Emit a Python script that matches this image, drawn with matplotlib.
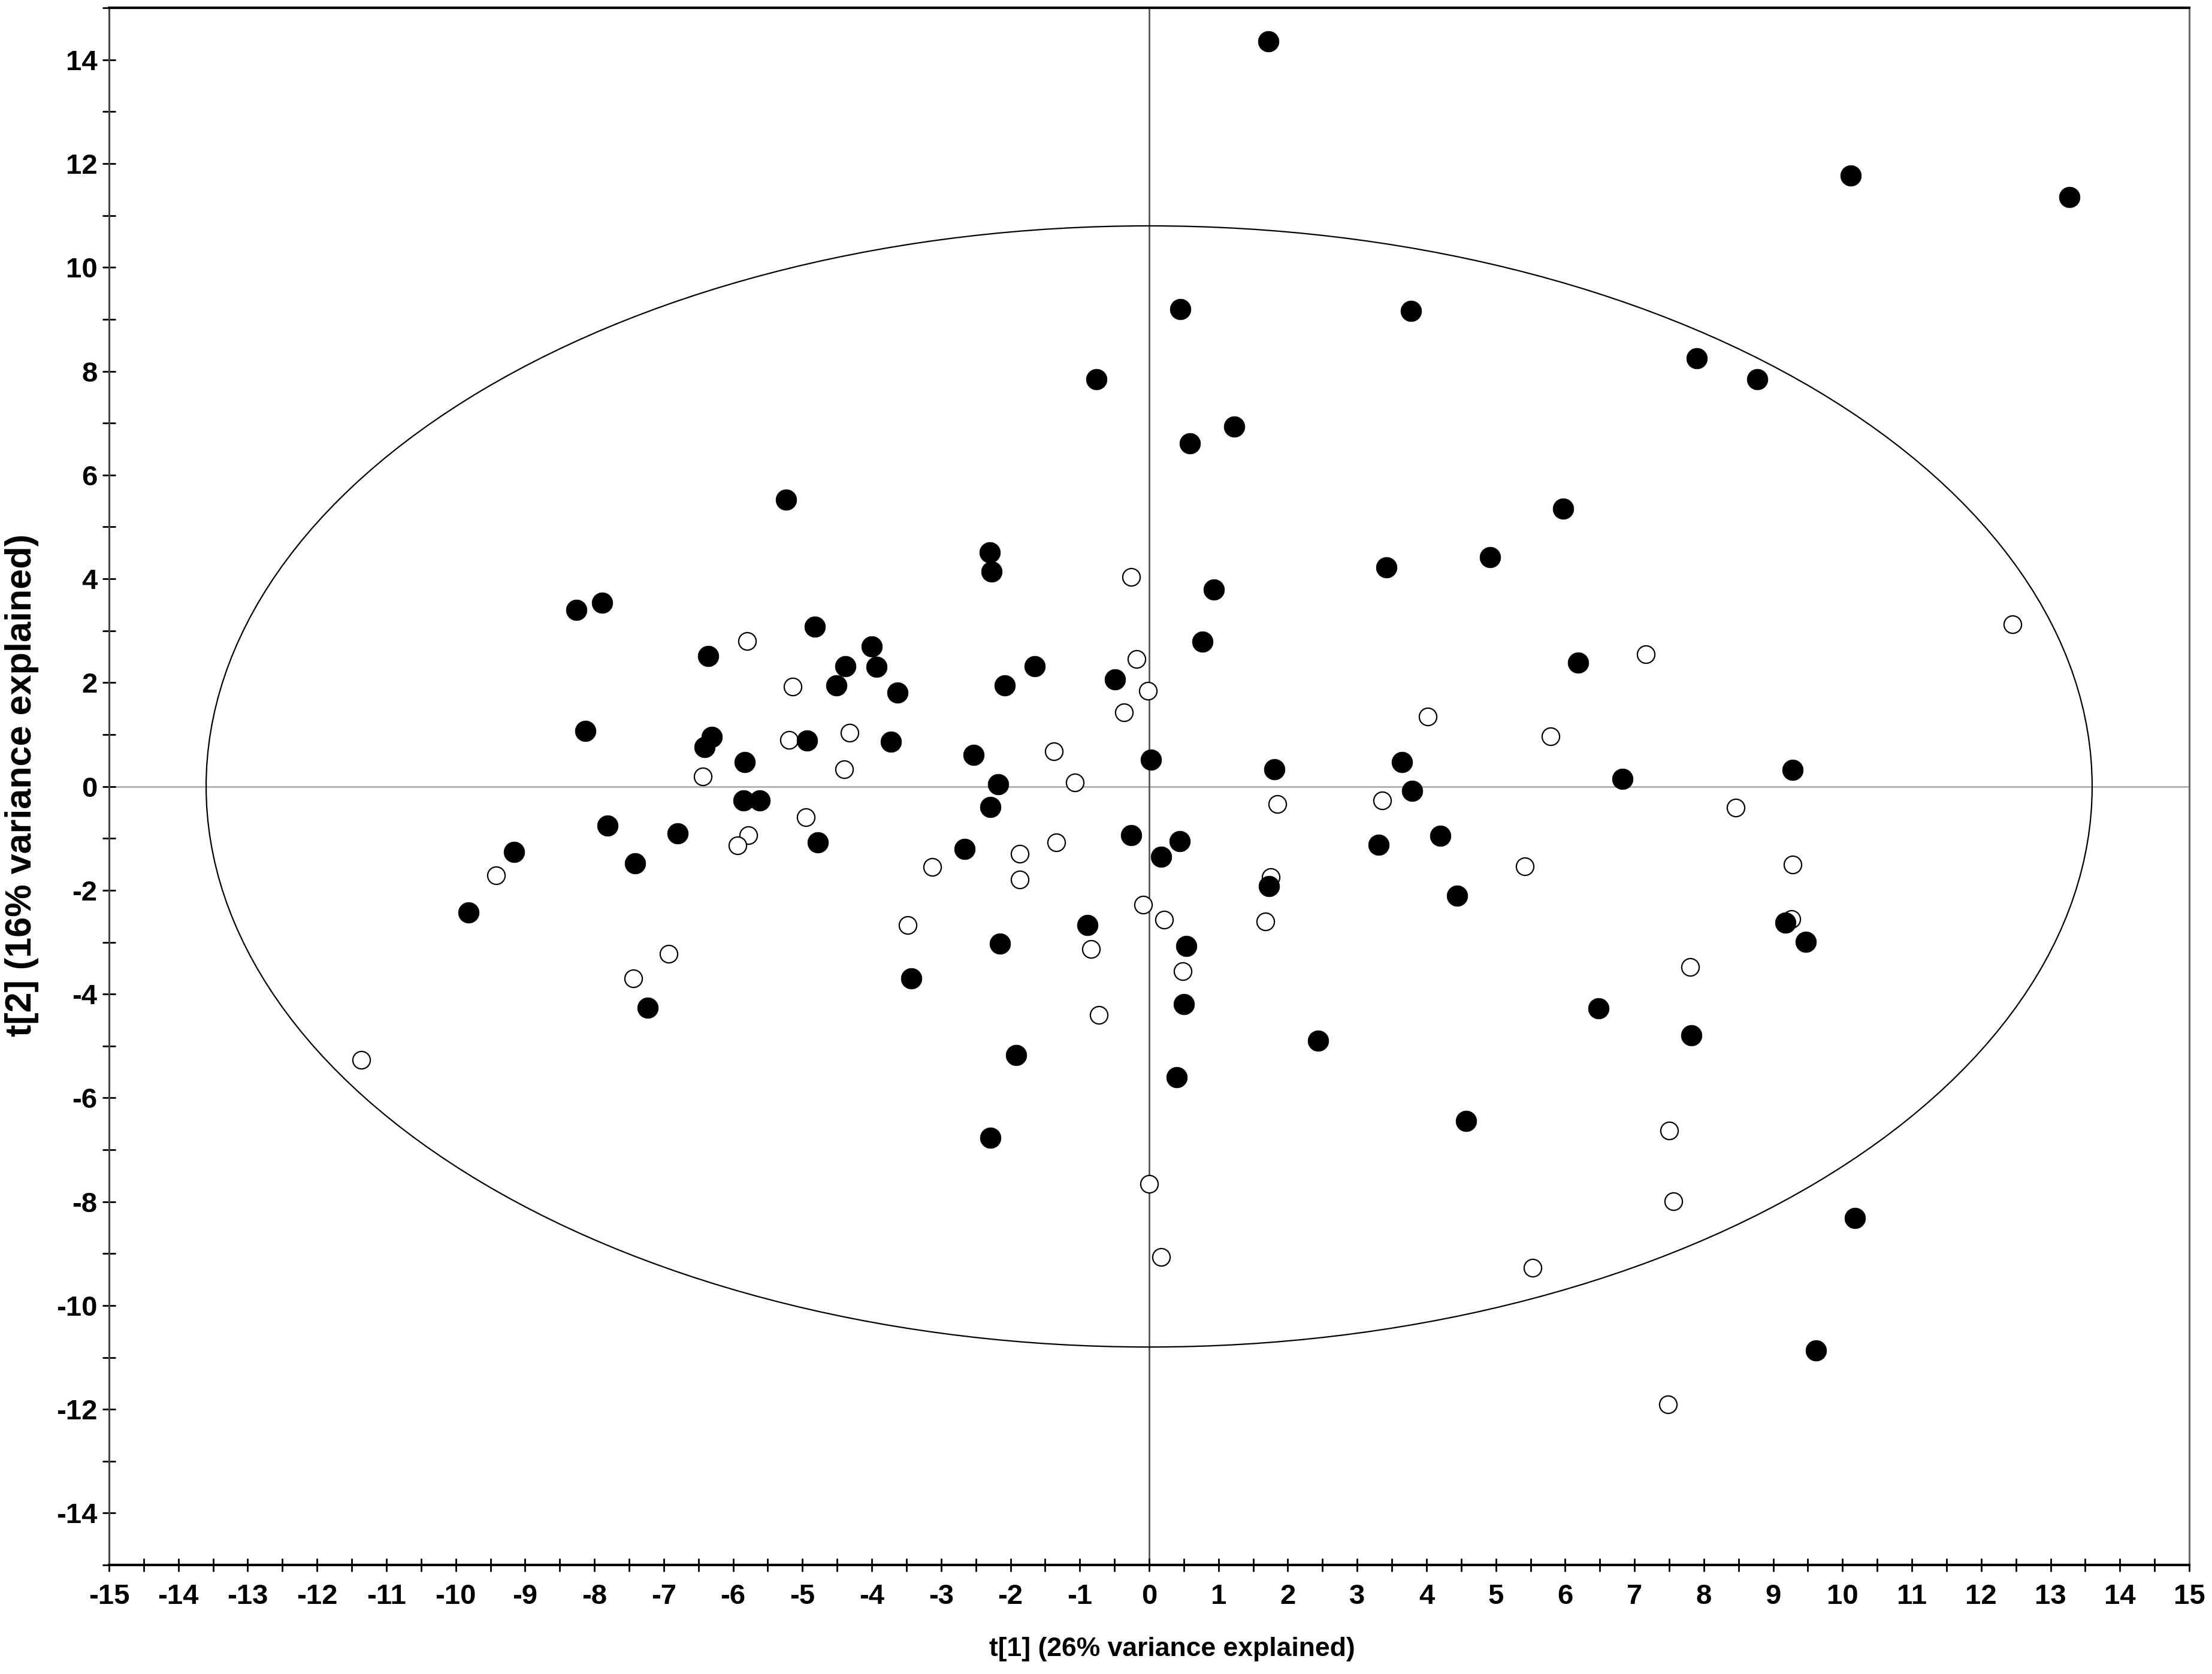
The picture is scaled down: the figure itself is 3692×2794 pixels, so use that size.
import matplotlib
matplotlib.use("Agg")
import matplotlib.pyplot as plt
from matplotlib.patches import Ellipse
import numpy as np

plt.rcParams['font.family'] = ['Liberation Sans', 'DejaVu Sans']
plt.rcParams['font.weight'] = 'bold'
plt.rcParams['axes.unicode_minus'] = False

# score plot values
filled_x = [1.72, 10.12, 13.27, 0.45, 3.78, 7.90, 8.77, -0.76, 1.23, 0.59,
            -5.24, 5.97, -2.30, 4.92, -2.27, 3.42, 0.93, -8.26, -7.89, -4.82,
            0.77, -4.00, -6.36, 6.19, -4.38, -3.93, -1.65, -4.51, -2.08, -0.49,
            -3.63, -8.13, -4.93, -6.31, -6.41, -3.72, -2.53, -5.83, 0.03, 3.65,
            1.81, 9.28, 6.83, -2.18, 3.79, -5.85, -5.62, -2.29, -7.81, -6.80,
            4.20, -0.26, -4.78, 0.44, 3.31, -9.16, -2.66, 0.17, -7.41, 1.73,
            4.44, -9.82, 9.18, -0.89, 9.47, -2.15, 0.54, -3.43, -7.23, 6.48,
            0.50, 7.82, 2.44, -1.92, 0.40, 4.57, -2.29, 10.18, 9.62]
filled_y = [14.35, 11.77, 11.35, 9.19, 9.16, 8.25, 7.85, 7.85, 6.93, 6.61,
            5.52, 5.35, 4.51, 4.42, 4.14, 4.22, 3.79, 3.40, 3.54, 3.08,
            2.79, 2.70, 2.51, 2.38, 2.31, 2.30, 2.31, 1.95, 1.95, 2.06,
            1.81, 1.07, 0.89, 0.95, 0.76, 0.86, 0.61, 0.47, 0.51, 0.47,
            0.33, 0.32, 0.15, 0.04, -0.09, -0.27, -0.27, -0.40, -0.76, -0.91,
            -0.95, -0.94, -1.08, -1.05, -1.12, -1.26, -1.20, -1.36, -1.48, -1.92,
            -2.11, -2.43, -2.62, -2.67, -2.99, -3.03, -3.07, -3.70, -4.26, -4.27,
            -4.20, -4.79, -4.90, -5.18, -5.60, -6.44, -6.77, -8.32, -10.87]

open_x = [-0.26, 12.45, -5.80, -0.18, 7.16, -5.14, -0.02, -0.36, 4.02, -4.32,
          5.79, -5.19, -1.37, -4.40, -1.07, -6.44, 1.85, 3.36, 8.46, -4.95,
          -5.78, -1.34, -5.94, -1.87, 5.42, -3.13, 9.28, -9.42, -1.87, 1.75,
          -0.09, 0.22, 9.26, 1.68, -3.48, -6.93, -0.84, 7.80, 0.48, -7.44,
          -0.73, -11.36, 7.50, 0.00, 7.56, 0.17, 5.53, 7.48]
open_y = [4.04, 3.12, 2.80, 2.45, 2.55, 1.92, 1.84, 1.43, 1.35, 1.03,
          0.97, 0.90, 0.68, 0.33, 0.08, 0.19, -0.34, -0.27, -0.41, -0.59,
          -0.94, -1.08, -1.13, -1.30, -1.54, -1.55, -1.50, -1.71, -1.79, -1.75,
          -2.28, -2.57, -2.55, -2.60, -2.67, -3.23, -3.13, -3.48, -3.56, -3.70,
          -4.40, -5.27, -6.63, -7.66, -7.99, -9.06, -9.27, -11.90]

# Hotelling T2 ellipse half axes
ell_a = 13.6
ell_b = 10.8

fig = plt.figure(figsize=(36.92, 27.94), dpi=100)
ax = fig.add_axes([0.0493, 0.0651, 0.9404, 0.9302])

ax.axhline(0, color='#b0b0b0', lw=2, zorder=1)
ax.axvline(0, color='#555555', lw=2, zorder=1)
ax.add_patch(Ellipse((0, 0), 2 * ell_a, 2 * ell_b, fill=False, ec='black', lw=1.6, zorder=2))

ax.scatter(open_x, open_y, s=21 ** 2, facecolors='white', edgecolors='black', linewidths=1.6, zorder=3)
ax.scatter(filled_x, filled_y, s=25 ** 2, c='black', edgecolors='black', linewidths=0.5, zorder=4)

ax.set_xlim(-15, 15)
ax.set_ylim(-15, 15)
ax.set_xticks(np.arange(-15, 16, 1))
ax.set_xticks(np.arange(-14.5, 15, 1), minor=True)
ax.set_yticks(np.arange(-14, 15, 2))
ax.set_yticks(np.arange(-15, 16, 1), minor=True)

ax.tick_params(axis='both', which='both', direction='inout', length=16, width=2, color='black')
ax.tick_params(axis='x', which='major', labelsize=34, pad=14)
ax.tick_params(axis='y', which='major', labelsize=34, pad=6)
for lab in ax.get_xticklabels() + ax.get_yticklabels():
    lab.set_fontweight('bold')

ax.spines['bottom'].set_linewidth(3)
ax.spines['top'].set_linewidth(3)
ax.spines['left'].set_linewidth(2.2)
ax.spines['left'].set_color('#444444')
ax.spines['right'].set_linewidth(2.2)
ax.spines['right'].set_color('#666666')

fig.text(0.530, 0.0148, 't[1] (26% variance explained)', ha='center', va='center',
         fontsize=32, fontweight='bold')
fig.text(0.0098, 0.531, 't[2] (16% variance explained)', ha='center', va='center',
         rotation=90, fontsize=44, fontweight='bold')

fig.savefig('out.png', dpi=100)
